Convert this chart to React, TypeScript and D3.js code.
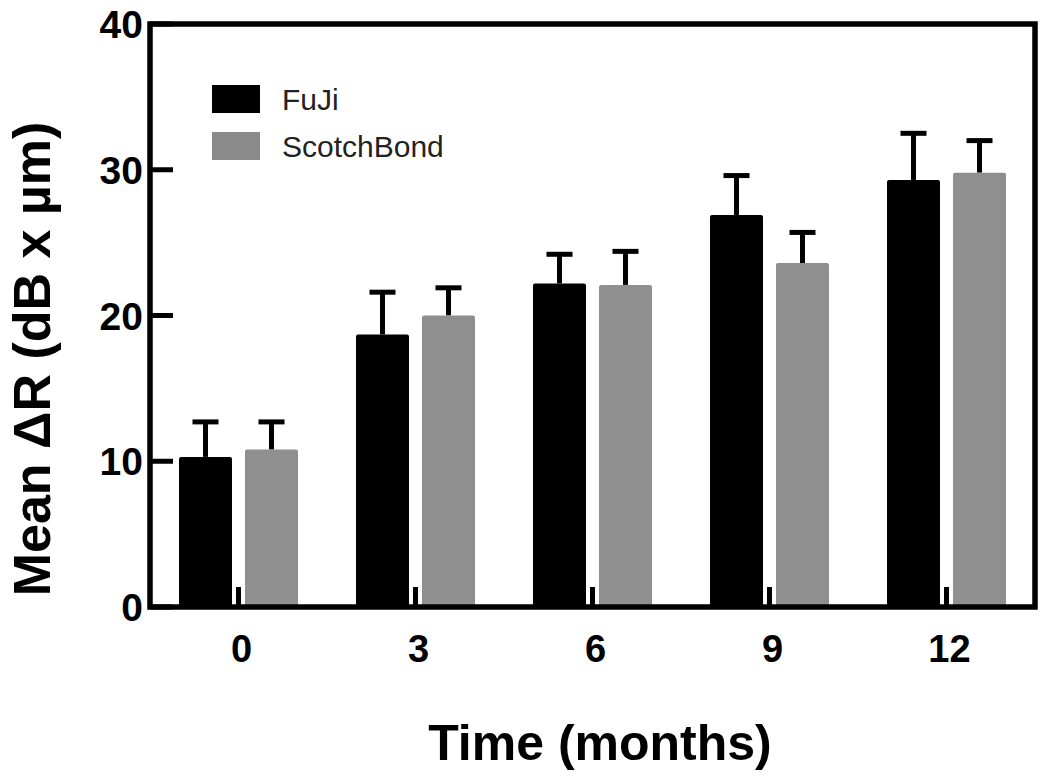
import React from "react";
import * as d3 from "d3";

const categories = ["0", "3", "6", "9", "12"];
const seriesNames = ["FuJi", "ScotchBond"];
const fujiMeans = [10.3, 18.7, 22.2, 26.9, 29.3];
const fujiErr = [2.4, 2.9, 2.0, 2.7, 3.2];
const scotchMeans = [10.8, 20.0, 22.1, 23.6, 29.8];
const scotchErr = [1.9, 1.9, 2.3, 2.1, 2.2];
const yTicks = [0, 10, 20, 30, 40];
const colors = ["#000000", "#8f8f8f"];

const W = 1050;
const H = 782;
const left = 150;
const right = 1035;
const top = 24;
const bottom = 607;
const font = "'Liberation Sans', Arial, sans-serif";

export default function App() {
  const x = d3.scaleBand<string>().domain(categories).range([left, right]).padding(0);
  const y = d3.scaleLinear().domain([0, 40]).range([bottom, top]);
  const offset = 33;
  const barW = 53;
  const series = [
    { means: fujiMeans, errs: fujiErr, dx: -offset, color: colors[0] },
    { means: scotchMeans, errs: scotchErr, dx: offset, color: colors[1] },
  ];
  const cx = (c: string) => (x(c) as number) + x.bandwidth() / 2;

  return (
    <svg width={W} height={H} style={{ position: "absolute", left: 0, top: 0, background: "#fff" }}>
      {series.map((s, si) =>
        categories.map((c, i) => {
          const xc = cx(c) + s.dx;
          const yt = y(s.means[i]);
          const ye = y(s.means[i] + s.errs[i]);
          return (
            <g key={`${si}-${i}`}>
              <line x1={xc} x2={xc} y1={yt} y2={ye} stroke="#000" strokeWidth={5} />
              <line x1={xc - 13} x2={xc + 13} y1={ye} y2={ye} stroke="#000" strokeWidth={5} />
              <rect x={xc - barW / 2} y={yt} width={barW} height={bottom - yt} fill={s.color} rx={2} />
            </g>
          );
        })
      )}
      {/* x ticks (inward) */}
      {categories.map((c) => (
        <line key={"xt" + c} x1={cx(c)} x2={cx(c)} y1={bottom} y2={bottom - 20} stroke="#000" strokeWidth={5} />
      ))}
      {/* y ticks (inward) */}
      {yTicks.map((t) => (
        <line key={"yt" + t} x1={left} x2={left + 23} y1={y(t)} y2={y(t)} stroke="#000" strokeWidth={5} />
      ))}
      {/* frame */}
      <rect x={left} y={top} width={right - left} height={bottom - top} fill="none" stroke="#000" strokeWidth={5.5} />
      {/* y tick labels */}
      {yTicks.map((t) => (
        <text key={"yl" + t} x={143} y={y(t)} dy="0.36em" textAnchor="end" fontFamily={font} fontWeight="bold" fontSize={39} fill="#000">
          {t}
        </text>
      ))}
      {/* x tick labels */}
      {categories.map((c) => (
        <text key={"xl" + c} x={cx(c) + 3} y={662} textAnchor="middle" fontFamily={font} fontWeight="bold" fontSize={38} fill="#000">
          {c}
        </text>
      ))}
      {/* legend */}
      {seriesNames.map((n, i) => (
        <g key={"lg" + n}>
          <rect x={212} y={85 + i * 47} width={48} height={28} fill={i === 0 ? "#000" : "#8a8a8a"} />
          <text x={282} y={110 + i * 47} fontFamily={font} fontSize={30} fill="#222">
            {n}
          </text>
        </g>
      ))}
      {/* axis titles */}
      <text x={600} y={760} textAnchor="middle" fontFamily={font} fontWeight="bold" fontSize={50} fill="#000">
        Time (months)
      </text>
      <text
        transform={`translate(50, 359) rotate(-90)`}
        textAnchor="middle"
        fontFamily={font}
        fontWeight="bold"
        fontSize={52}
        fill="#000"
      >
        Mean ΔR (dB x µm)
      </text>
    </svg>
  );
}
